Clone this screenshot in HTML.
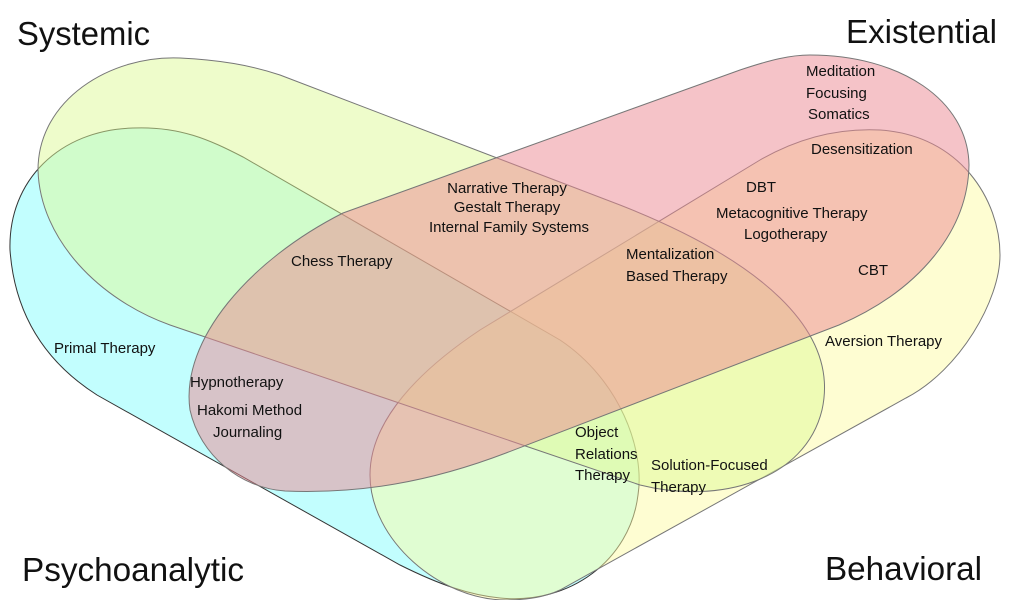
<!DOCTYPE html>
<html><head><meta charset="utf-8"><style>
html,body{margin:0;padding:0;background:#fff;}
svg{display:block;}
text{font-family:"Liberation Sans",sans-serif;fill:#111;}
.l{font-size:15px;}
.t{font-size:33px;}
</style></head><body>
<svg width="1012" height="600" viewBox="0 0 1012 600" xmlns="http://www.w3.org/2000/svg">
<path d="M133,128 C180,126 210,140 243,157 L560,340 C620,380 645,450 638,495 C630,560 570,605 500,598 C470,595 440,585 400,565 L97,395 C50,365 15,320 10,250 C8,180 60,130 133,128 Z" fill="rgb(133,253,253)" fill-opacity="0.5" stroke="#333" stroke-width="1"/>
<path d="M506,600 C440,600 370,540 370,475 C370,420 420,370 480,330 L760,160 C800,137 840,128 880,130 C960,135 1000,200 1000,255 C1000,300 960,370 906,398 L560,590 C545,597 525,600 506,600 Z" fill="rgb(253,251,165)" fill-opacity="0.5" stroke="#777" stroke-width="1"/>
<path d="M280,75 L620,205 C760,260 840,330 822,410 C805,480 720,505 640,485 L170,325 C100,300 40,240 38,170 C38,100 110,55 180,58 C220,60 250,65 280,75 Z" fill="rgb(221,249,151)" fill-opacity="0.5" stroke="#777" stroke-width="1"/>
<path d="M343,213 L740,70 C770,60 790,55 810,55 C900,55 968,100 969,165 C968,230 920,290 839,325 L506,453 C430,482 360,494 285,491 C240,488 200,455 190,410 C180,340 250,260 343,213 Z" fill="rgb(235,135,145)" fill-opacity="0.5" stroke="#777" stroke-width="1"/>

<text class="t" x="17" y="45" textLength="133" lengthAdjust="spacingAndGlyphs">Systemic</text>
<text class="t" x="846" y="43" textLength="151" lengthAdjust="spacingAndGlyphs">Existential</text>
<text class="t" x="22" y="581" textLength="222" lengthAdjust="spacingAndGlyphs">Psychoanalytic</text>
<text class="t" x="825" y="580" textLength="157" lengthAdjust="spacingAndGlyphs">Behavioral</text>

<text class="l" x="806" y="76">Meditation</text>
<text class="l" x="806" y="98">Focusing</text>
<text class="l" x="808" y="119">Somatics</text>
<text class="l" x="811" y="154">Desensitization</text>
<text class="l" x="746" y="192">DBT</text>
<text class="l" x="716" y="218">Metacognitive Therapy</text>
<text class="l" x="744" y="239">Logotherapy</text>
<text class="l" x="858" y="275">CBT</text>
<text class="l" x="507" y="193" text-anchor="middle">Narrative Therapy</text>
<text class="l" x="507" y="212" text-anchor="middle">Gestalt Therapy</text>
<text class="l" x="509" y="232" text-anchor="middle">Internal Family Systems</text>
<text class="l" x="291" y="266">Chess Therapy</text>
<text class="l" x="626" y="259">Mentalization</text>
<text class="l" x="626" y="281">Based Therapy</text>
<text class="l" x="825" y="346">Aversion Therapy</text>
<text class="l" x="54" y="353">Primal Therapy</text>
<text class="l" x="190" y="387">Hypnotherapy</text>
<text class="l" x="197" y="415">Hakomi Method</text>
<text class="l" x="213" y="437">Journaling</text>
<text class="l" x="575" y="437">Object</text>
<text class="l" x="575" y="459">Relations</text>
<text class="l" x="575" y="480">Therapy</text>
<text class="l" x="651" y="470">Solution-Focused</text>
<text class="l" x="651" y="492">Therapy</text>
</svg>
</body></html>
